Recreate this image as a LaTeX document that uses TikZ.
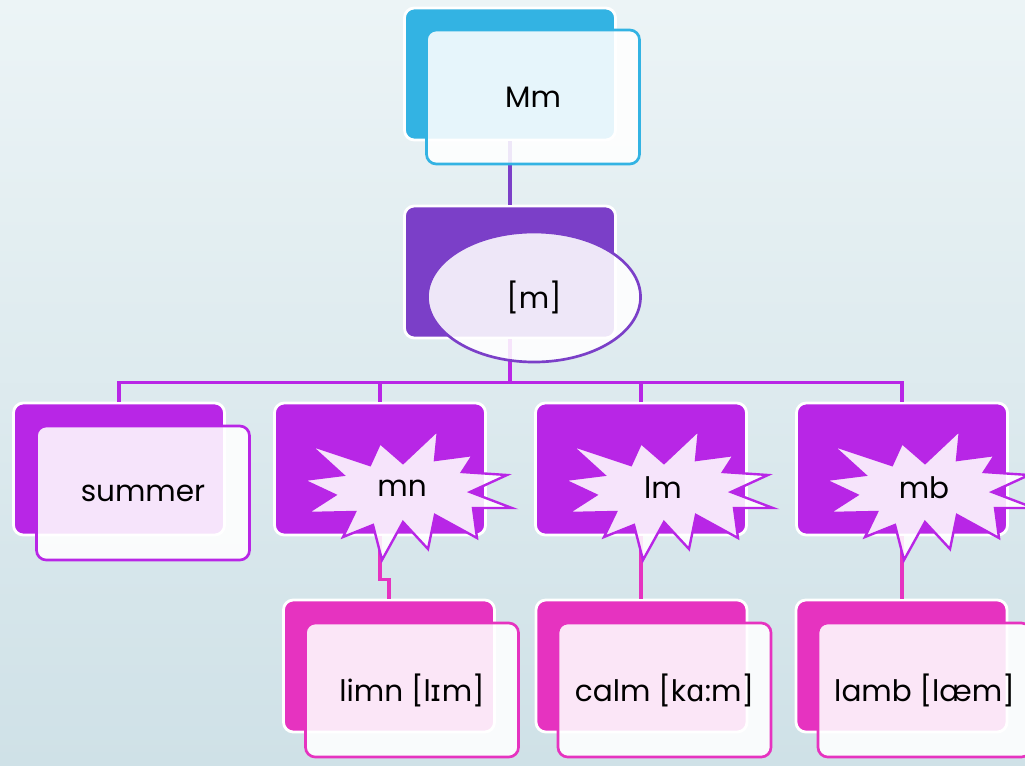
\documentclass[tikz,border=0pt]{standalone}
\usepackage{fontspec}
\setmainfont{Poppins}
\newfontfamily\ipafont{DejaVu Sans}
\usetikzlibrary{shapes.geometric}

\definecolor{mblue}{HTML}{33B3E3}
\definecolor{mpurple}{HTML}{7B3FC8}
\definecolor{mmagenta}{HTML}{B826E6}
\definecolor{mpink}{HTML}{E633C0}
\definecolor{bgtop}{RGB}{236,244,246}
\definecolor{bgbot}{RGB}{207,225,231}

\begin{document}
\begin{tikzpicture}[x=0.025cm,y=-0.025cm,
  back/.style={rectangle,rounded corners=7pt,draw=white,line width=2pt,fill=#1,
    minimum width=5.275cm,minimum height=3.3cm,inner sep=0pt},
  front/.style={rectangle,rounded corners=7pt,draw=#1,line width=1.9pt,fill=white,
    fill opacity=0.88,text opacity=1,minimum width=5.325cm,minimum height=3.35cm,
    font=\fontsize{21}{24}\selectfont},
  oval/.style={ellipse,draw=mpurple,line width=1.9pt,fill=white,fill opacity=0.88,
    text opacity=1,minimum width=5.325cm,minimum height=3.25cm,
    font=\fontsize{21}{24}\selectfont},
  burst/.style={draw=mmagenta,line width=1.7pt,fill=white,fill opacity=0.88},
  lbl/.style={font=\fontsize{21}{24}\selectfont,inner sep=0pt},
  link/.style={draw=#1,line width=2.4pt}]

% background
\useasboundingbox (0,0) rectangle (1025,765);
\clip (0,0) rectangle (1025,765);
\shade[top color=bgtop,bottom color=bgbot] (0,0) rectangle (1025,765);

% back cards
\node[back=mblue] (mm) at (510,74) {};
\node[back=mpurple] (m) at (510,272) {};
\node[back=mmagenta] (summer) at (119,469) {};
\node[back=mmagenta] (mn) at (380,469) {};
\node[back=mmagenta] (lm) at (641,469) {};
\node[back=mmagenta] (mb) at (902,469) {};
\node[back=mpink] (limn) at (389,666) {};
\node[back=mpink] (calm) at (641.5,666) {};
\node[back=mpink] (lamb) at (901.5,666) {};

% connectors
\draw[link=mpurple] (mm.south) -- (m.north);
\foreach \c in {summer,mn,lm,mb}
  \draw[link=mmagenta] (m.south) -- ++(0,43) -| (\c.north);
\draw[link=mpink] (mn.south) -- ++(0,43) -| (limn.north);
\draw[link=mpink] (lm.south) -- (lm.south |- calm.north);
\draw[link=mpink] (mb.south) -- (mb.south |- lamb.north);

% front cards
\node[front=mblue] (mm-f) at ([shift={(23,23)}]mm.center) {Mm};
\node[oval] (m-f) at ([shift={(24,25)}]m.center) {[m]};
\node[front=mmagenta] (summer-f) at ([shift={(24,24)}]summer.center) {summer};
\node[front=mpink] (limn-f) at ([shift={(23,24)}]limn.center) {limn [l{\ipafont ɪ}m]};
\node[front=mpink] (calm-f) at ([shift={(23,24)}]calm.center) {calm [k{\ipafont ɑ}:m]};
\node[front=mpink] (lamb-f) at ([shift={(23,24)}]lamb.center) {lamb [læm]};

% bursts
\foreach \n in {mn,lm,mb}{
  \begin{scope}[shift={(\n.center)}]
    \draw[burst] (-70,-24) -- (-10,-4) -- (0,-26) -- (23,-6) -- (58,-39)
      -- (55,-9) -- (93,-14) -- (82,3) -- (127,6) -- (90,23) -- (132,39)
      -- (93,39) -- (97,69) -- (55,46) -- (48,80) -- (23,53) -- (2,91)
      -- (-7,56) -- (-37,68) -- (-25,43) -- (-73,44) -- (-45,26)
      -- (-77,11) -- (-37,6) -- cycle;
  \end{scope}
}
\node[lbl] (mn-t) at ([shift={(22,19)}]mn.center) {mn};
\node[lbl] (lm-t) at ([shift={(22,19)}]lm.center) {lm};
\node[lbl] (mb-t) at ([shift={(22,19)}]mb.center) {mb};

\end{tikzpicture}
\end{document}
